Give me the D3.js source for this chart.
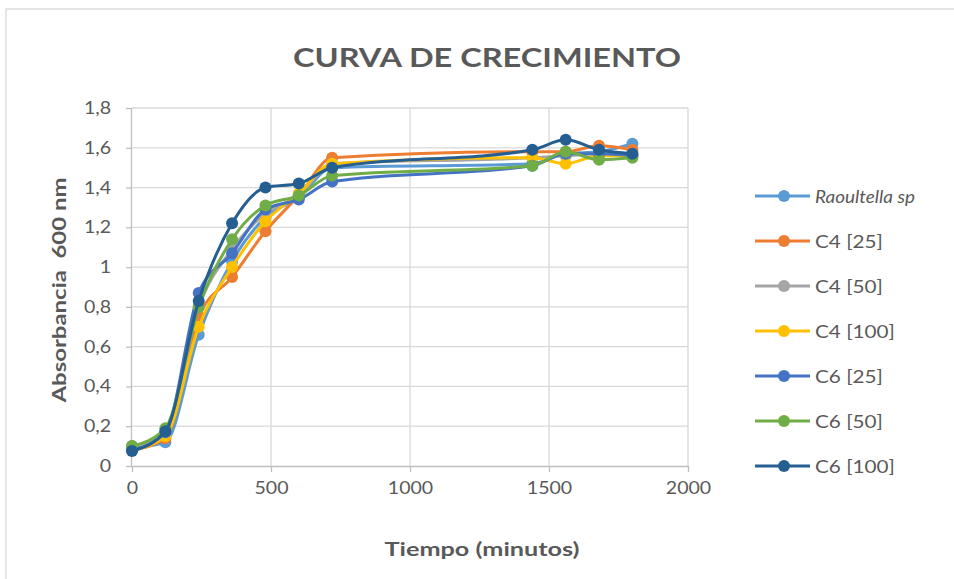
<!DOCTYPE html>
<html lang="es">
<head>
  <meta charset="UTF-8">
  <title>Curva de crecimiento</title>
  <script src="https://d3js.org/d3.v7.min.js"></script>
  <style>
    body { margin: 0; background: #fff; }
    text { font-family: Lato, "Open Sans", sans-serif; fill: #595959; }
    .grid line { stroke: #d9d9d9; stroke-width: 1.3px; }
    .axis path, .axis line { stroke: #bfbfbf; stroke-width: 1.3px; }
    .axis text { font-size: 17px; fill: #595959; }
  </style>
</head>
<body>
  <div id="chart"></div>
  <script>
    // time points (minutes)
    const tiempos = [0, 120, 240, 360, 480, 600, 720, 1440, 1560, 1680, 1800];

    const seriesNames = ["Raoultella sp", "C4 [25]", "C4 [50]", "C4 [100]", "C6 [25]", "C6 [50]", "C6 [100]"];
    const colors = ["#5b9bd5", "#ed7d31", "#a5a5a5", "#ffc000", "#4472c4", "#70ad47", "#255e91"];

    const raoultella = [0.09, 0.12, 0.66, 1.03, 1.25, 1.35, 1.50, 1.52, 1.57, 1.58, 1.62];
    const c4_25  = [0.08, 0.14, 0.75, 0.95, 1.18, 1.36, 1.55, 1.58, 1.58, 1.61, 1.59];
    const c4_50  = [0.10, 0.16, 0.80, 1.09, 1.27, 1.36, 1.52, 1.55, 1.56, 1.57, 1.57];
    const c4_100 = [0.08, 0.15, 0.70, 1.00, 1.23, 1.37, 1.52, 1.55, 1.52, 1.56, 1.56];
    const c6_25  = [0.08, 0.17, 0.87, 1.07, 1.29, 1.34, 1.43, 1.51, 1.57, 1.57, 1.56];
    const c6_50  = [0.10, 0.19, 0.80, 1.14, 1.31, 1.36, 1.46, 1.51, 1.58, 1.54, 1.55];
    const c6_100 = [0.075, 0.175, 0.83, 1.22, 1.40, 1.42, 1.50, 1.59, 1.64, 1.59, 1.57];

    const allValues = [raoultella, c4_25, c4_50, c4_100, c6_25, c6_50, c6_100];

    const xTicks = [0, 500, 1000, 1500, 2000];
    const yTicks = [0, 0.2, 0.4, 0.6, 0.8, 1, 1.2, 1.4, 1.6, 1.8];

    const W = 954, H = 579;
    const plot = { left: 132, right: 688, top: 108, bottom: 466 };

    const svg = d3.select("#chart").append("svg")
      .attr("width", W)
      .attr("height", H);

    // chart border (only top/left are inside the crop)
    svg.append("rect")
      .attr("x", 6).attr("y", 9)
      .attr("width", W + 10).attr("height", H + 10)
      .attr("fill", "#fff")
      .attr("stroke", "#d9d9d9")
      .attr("stroke-width", 1.3);

    const x = d3.scaleLinear().domain([0, 2000]).range([plot.left, plot.right]);
    const y = d3.scaleLinear().domain([0, 1.8]).range([plot.bottom, plot.top]);

    // the original picture is a bit wider than tall, stretch texts to match
    const stretch = (sel, f) => sel.each(function () {
      const w = this.getComputedTextLength();
      d3.select(this).attr("textLength", w * f).attr("lengthAdjust", "spacingAndGlyphs");
    });

    // gridlines
    svg.append("g").attr("class", "grid")
      .selectAll("line").data(yTicks.slice(1)).enter().append("line")
      .attr("x1", plot.left).attr("x2", plot.right)
      .attr("y1", d => y(d)).attr("y2", d => y(d));
    svg.append("g").attr("class", "grid")
      .selectAll("line").data(xTicks.slice(1)).enter().append("line")
      .attr("x1", d => x(d)).attr("x2", d => x(d))
      .attr("y1", plot.top).attr("y2", plot.bottom);

    const fmt = d => String(d).replace(".", ",");

    // axes
    const xAxis = svg.append("g").attr("class", "axis")
      .attr("transform", `translate(0,${plot.bottom})`)
      .call(d3.axisBottom(x).tickValues(xTicks).tickSize(6).tickPadding(10).tickFormat(d => d))
      .call(g => g.select(".domain").attr("d", `M${plot.left},0.5H${plot.right}`));
    stretch(xAxis.selectAll("text"), 1.15);

    const yAxis = svg.append("g").attr("class", "axis")
      .attr("transform", `translate(${plot.left},0)`)
      .call(d3.axisLeft(y).tickValues(yTicks).tickSize(6).tickPadding(15).tickFormat(fmt))
      .call(g => g.select(".domain").attr("d", `M-0.5,${plot.top}V${plot.bottom}`));
    stretch(yAxis.selectAll("text"), 1.15);

    // smoothed lines
    const line = d3.line()
      .x((d, i) => x(tiempos[i]))
      .y(d => y(d))
      .curve(d3.curveMonotoneX);

    allValues.forEach((vals, k) => {
      const g = svg.append("g");
      g.append("path")
        .attr("d", line(vals))
        .attr("fill", "none")
        .attr("stroke", colors[k])
        .attr("stroke-width", 3)
        .attr("stroke-linejoin", "round");
      g.selectAll("circle").data(vals).enter().append("circle")
        .attr("cx", (d, i) => x(tiempos[i]))
        .attr("cy", d => y(d))
        .attr("r", 6)
        .attr("fill", colors[k]);
    });

    // title
    svg.append("text")
      .attr("x", 487).attr("y", 67)
      .attr("text-anchor", "middle")
      .attr("font-size", 27).attr("font-weight", "bold")
      .attr("textLength", 388).attr("lengthAdjust", "spacingAndGlyphs")
      .text("CURVA DE CRECIMIENTO");

    // axis titles
    svg.append("text")
      .attr("x", 482).attr("y", 556)
      .attr("text-anchor", "middle")
      .attr("font-size", 18).attr("font-weight", "bold")
      .attr("textLength", 195).attr("lengthAdjust", "spacingAndGlyphs")
      .text("Tiempo (minutos)");

    svg.append("text")
      .attr("transform", "translate(66,290) rotate(-90)")
      .attr("text-anchor", "middle")
      .attr("font-size", 18).attr("font-weight", "bold")
      .attr("textLength", 225).attr("lengthAdjust", "spacingAndGlyphs")
      .attr("xml:space", "preserve")
      .text("Absorbancia  600 nm");

    // legend
    const legend = svg.append("g").attr("transform", "translate(755,196)");
    seriesNames.forEach((name, k) => {
      const row = legend.append("g").attr("transform", `translate(0,${k * 45})`);
      row.append("line")
        .attr("x1", 0).attr("x2", 55)
        .attr("stroke", colors[k]).attr("stroke-width", 3);
      row.append("circle").attr("cx", 29).attr("r", 6).attr("fill", colors[k]);
      row.append("text")
        .attr("x", 60).attr("y", 6.5)
        .attr("font-size", 18)
        .attr("font-style", k === 0 ? "italic" : "normal")
        .text(name)
        .call(stretch, k === 0 ? 1.05 : 1.15);
    });
  </script>
</body>
</html>
